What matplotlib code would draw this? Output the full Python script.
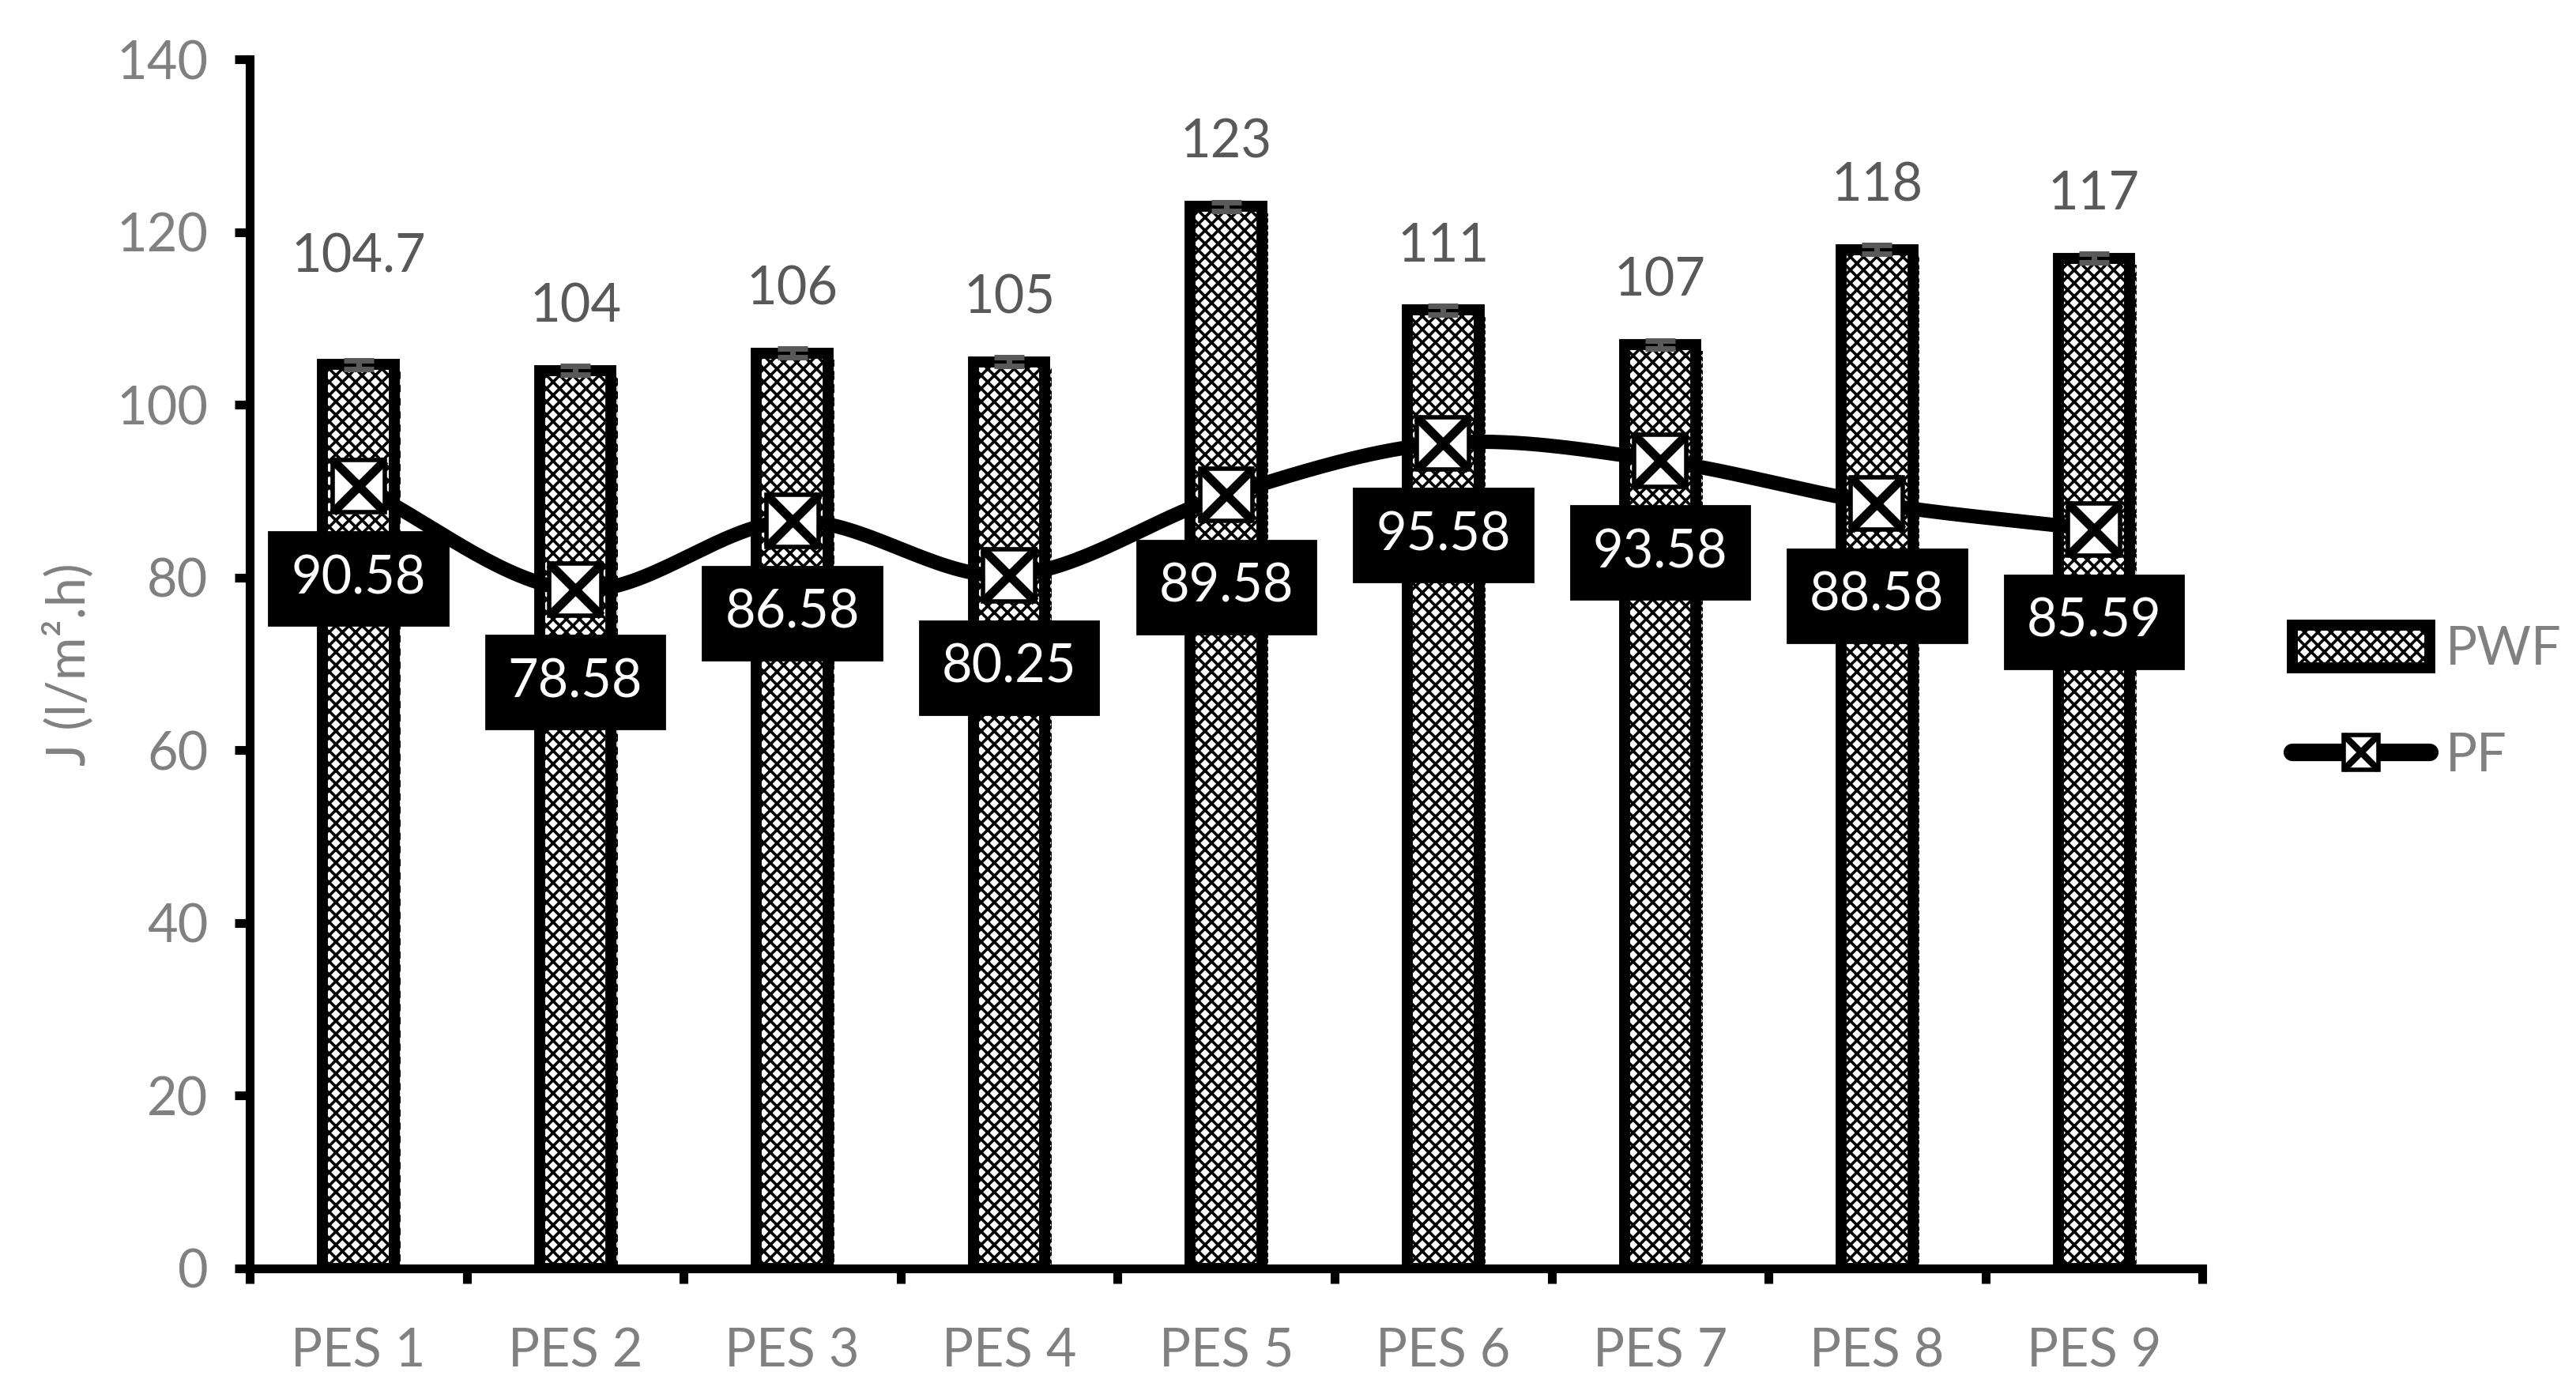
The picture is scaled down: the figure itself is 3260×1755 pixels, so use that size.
import numpy as np
import matplotlib.pyplot as plt
import matplotlib.patheffects as pe
from matplotlib.lines import Line2D
from matplotlib.patches import Patch

plt.rcParams['font.family'] = ['Lato', 'DejaVu Sans']
plt.rcParams['hatch.linewidth'] = 1.3

categories = ["PES 1", "PES 2", "PES 3", "PES 4", "PES 5", "PES 6", "PES 7", "PES 8", "PES 9"]
pwf = [104.7, 104, 106, 105, 123, 111, 107, 118, 117]
pwf_err = [0.5, 0.5, 0.5, 0.5, 0.5, 0.5, 0.5, 0.5, 0.5]
pwf_labels = ["104.7", "104", "106", "105", "123", "111", "107", "118", "117"]
pf = [90.58, 78.58, 86.58, 80.25, 89.58, 95.58, 93.58, 88.58, 85.59]
pf_labels = ["90.58", "78.58", "86.58", "80.25", "89.58", "95.58", "93.58", "88.58", "85.59"]

# label offsets above the bars (points); the first one sits higher in the original
pwf_label_dy = [49, 29, 29, 29, 29, 29, 29, 29, 29]

GRAY = "#808080"
DARK = "#595959"
FS = 24


def smooth(x, y, n=40):
    # catmull-rom curve through the points, like excel's smoothed line
    x = np.asarray(x, float)
    y = np.asarray(y, float)
    px = np.concatenate([[2 * x[0] - x[1]], x, [2 * x[-1] - x[-2]]])
    py = np.concatenate([[2 * y[0] - y[1]], y, [2 * y[-1] - y[-2]]])
    xs, ys = [], []
    t = np.linspace(0, 1, n)
    for i in range(1, len(px) - 2):
        for p, out in ((px, xs), (py, ys)):
            p0, p1, p2, p3 = p[i - 1], p[i], p[i + 1], p[i + 2]
            out.extend(0.5 * (2 * p1 + (-p0 + p2) * t
                              + (2 * p0 - 5 * p1 + 4 * p2 - p3) * t ** 2
                              + (-p0 + 3 * p1 - 3 * p2 + p3) * t ** 3))
    return np.array(xs), np.array(ys)


fig = plt.figure(figsize=(16.3, 8.775), dpi=200)
ax = fig.add_axes([0.097, 0.0855, 0.758, 0.8715])

x = np.arange(len(categories))
shadow = [pe.SimplePatchShadow(offset=(3, -3), alpha=0.25), pe.Normal()]
bars = ax.bar(x, pwf, width=0.33, color="white", edgecolor="black", linewidth=5,
              hatch="xxxx", zorder=2, path_effects=shadow)
ax.errorbar(x, pwf, yerr=pwf_err, fmt="none", ecolor=DARK, elinewidth=2.5,
            capsize=7, capthick=2.5, zorder=3)

sx, sy = smooth(x, pf)
ax.plot(sx, sy, color="black", linewidth=6.5, solid_capstyle="round", zorder=4)
ax.plot(x, pf, linestyle="none", marker="s", markersize=24, markerfacecolor="white",
        markeredgecolor="black", markeredgewidth=2, zorder=5)
ax.plot(x, pf, linestyle="none", marker="x", markersize=24, markeredgecolor="black",
        markeredgewidth=4, zorder=6)

for xi, v, lab, dy in zip(x, pwf, pwf_labels, pwf_label_dy):
    ax.annotate(lab, (xi, v), xytext=(0, dy), textcoords="offset points",
                ha="center", va="center", fontsize=FS, color=DARK, zorder=7)
for xi, v, lab in zip(x, pf, pf_labels):
    ax.annotate(lab, (xi, v), xytext=(0, -42), textcoords="offset points",
                ha="center", va="center", fontsize=FS, color="white", zorder=8,
                bbox=dict(boxstyle="square,pad=0.42", facecolor="black", edgecolor="black"))

ax.set_xlim(-0.5, len(categories) - 0.5)
ax.set_ylim(0, 140)
ax.set_yticks(np.arange(0, 141, 20))
ax.set_xticks(x)
ax.set_xticklabels(categories)
ax.set_xticks(np.arange(-0.5, len(categories), 1), minor=True)
ax.tick_params(axis="x", which="major", length=0, pad=27, labelsize=FS, labelcolor=GRAY)
ax.tick_params(axis="x", which="minor", length=7, width=4, direction="out", color="black")
ax.tick_params(axis="y", length=7, width=4, direction="out", labelsize=FS,
               labelcolor=GRAY, pad=12)

for s in ["top", "right"]:
    ax.spines[s].set_visible(False)
for s in ["left", "bottom"]:
    ax.spines[s].set_linewidth(4)

ax.set_ylabel("J (l/m\u00b2.h)", fontsize=FS, color=GRAY)
ax.yaxis.set_label_coords(-0.08, 0.5)

pf_line = Line2D([0], [0], color="black", linewidth=8, solid_capstyle="round",
                 marker="s", markersize=16, markerfacecolor="white",
                 markeredgecolor="black", markeredgewidth=2)
pf_x = Line2D([0], [0], linestyle="none", marker="x", markersize=16,
              markeredgecolor="black", markeredgewidth=3)
handles = [
    Patch(facecolor="white", edgecolor="black", linewidth=5, hatch="xxxx"),
    (pf_line, pf_x),
]
fig.legend(handles, ["PWF", "PF"], loc="center left", bbox_to_anchor=(0.89, 0.493),
           frameon=False, fontsize=FS, labelcolor=GRAY, handlelength=2.6,
           handleheight=0.85, labelspacing=1.1, handletextpad=0.3,
           borderpad=0, borderaxespad=0)

fig.savefig("out.png", dpi=200)
